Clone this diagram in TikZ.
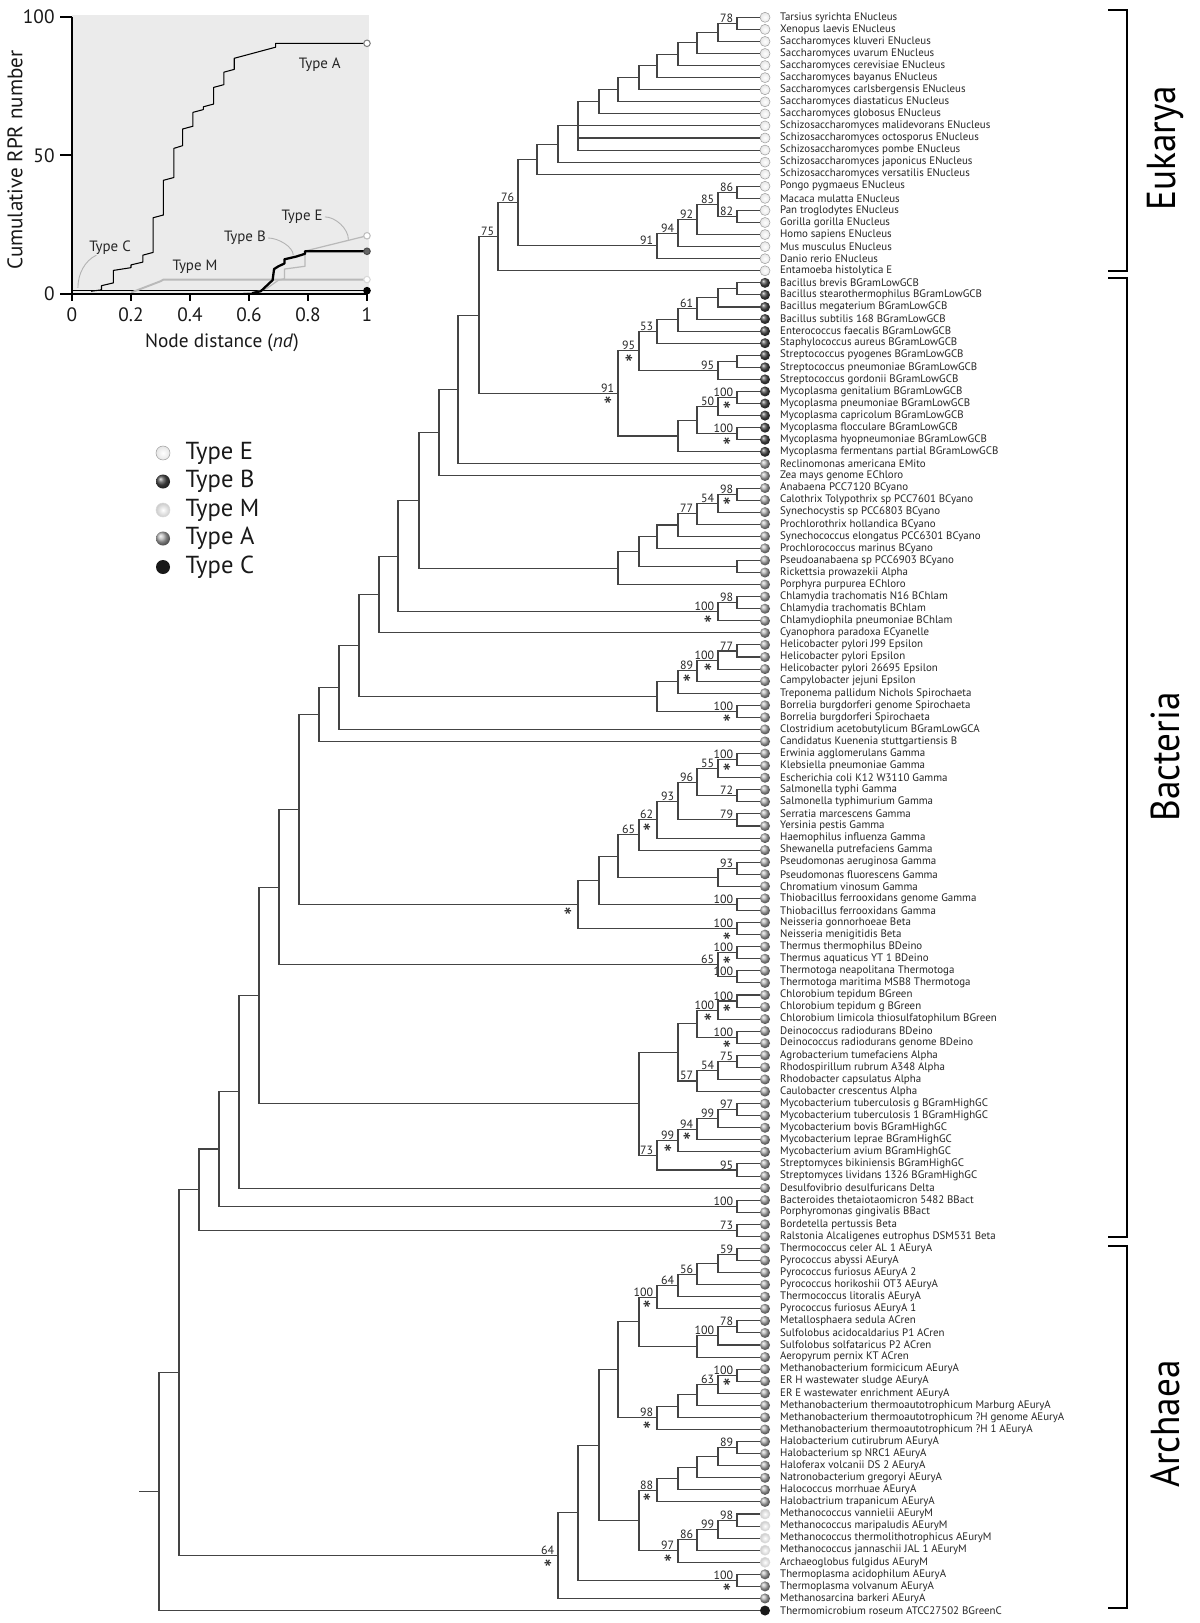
\documentclass[tikz,border=0pt]{standalone}
\usepackage{fontspec}
\setmainfont{PT Sans}
\usetikzlibrary{calc,positioning}
\definecolor{treegray}{RGB}{68,68,68}
\definecolor{plotbg}{RGB}{235,235,235}

% clade: name, x of its vertical, first child, last child, support value
\newcommand{\clade}[5]{%
  \coordinate (mid) at ($(#3)!.5!(#4)$);
  \coordinate (lev) at (#2,0);
  \coordinate (#1) at (mid -| lev);
  \draw[branch] (#3) -- (#1 |- #3) -- (#1 |- #4) -- (#4);
  \if\relax\detokenize{#5}\relax\else\node[boot] (b#1) at (#1) {#5};\fi}

\begin{document}
\begin{tikzpicture}[x=0.2mm, y=-0.2mm,
    branch/.style={draw=treegray, line width=0.6pt},
    leaf/.style={circle, inner sep=0pt, minimum size=2mm},
    typeE/.style={draw=gray!75, line width=0.3pt, inner color=white, outer color=gray!20},
    typeB/.style={ball color=black!70},
    typeM/.style={draw=gray!30, line width=0.3pt, inner color=white, outer color=gray!40},
    typeA/.style={ball color=gray!60},
    typeC/.style={fill=black!90},
    leaftext/.style={inner sep=0pt, font=\fontsize{6.2}{7}\selectfont, text=black!85},
    boot/.style={anchor=south east, inner sep=0pt, xshift=-0.7mm, yshift=0.1mm, font=\fontsize{6.8}{7}\selectfont, text=black!85},
    bstar/.style={inner sep=0pt, xshift=-2mm, yshift=-1.7mm, font=\fontsize{14}{14}\selectfont, text=black!85},
    keytext/.style={inner sep=0pt, font=\fontsize{14}{16}\selectfont, text=black!90},
    axisline/.style={draw=black, line width=1pt},
    ticklab/.style={inner sep=0pt, font=\fontsize{11}{13}\selectfont, text=black!90},
    typelab/.style={inner sep=0pt, font=\fontsize{8.5}{10}\selectfont, text=black!85},
    leader/.style={draw=gray!60, line width=0.5pt},
    endmark/.style={circle, inner sep=0pt, minimum size=1.3mm, line width=0.6pt},
    bracket/.style={draw=black, line width=0.8pt},
    domainlab/.style={rotate=90, inner sep=0pt, font=\fontsize{23}{23}\selectfont},
]
\useasboundingbox (0,0) rectangle (1200,1623);

% leaves
\foreach \typ/\name [count=\i] in {
  E/Tarsius syrichta ENucleus, E/Xenopus laevis ENucleus,
  E/Saccharomyces kluveri ENucleus, E/Saccharomyces uvarum ENucleus,
  E/Saccharomyces cerevisiae ENucleus, E/Saccharomyces bayanus ENucleus,
  E/Saccharomyces carlsbergensis ENucleus, E/Saccharomyces diastaticus ENucleus,
  E/Saccharomyces globosus ENucleus, E/Schizosaccharomyces malidevorans ENucleus,
  E/Schizosaccharomyces octosporus ENucleus, E/Schizosaccharomyces pombe ENucleus,
  E/Schizosaccharomyces japonicus ENucleus, E/Schizosaccharomyces versatilis ENucleus,
  E/Pongo pygmaeus ENucleus, E/Macaca mulatta ENucleus,
  E/Pan troglodytes ENucleus, E/Gorilla gorilla ENucleus,
  E/Homo sapiens ENucleus, E/Mus musculus ENucleus,
  E/Danio rerio ENucleus, E/Entamoeba histolytica E,
  B/Bacillus brevis BGramLowGCB, B/Bacillus stearothermophilus BGramLowGCB,
  B/Bacillus megaterium BGramLowGCB, B/Bacillus subtilis 168 BGramLowGCB,
  B/Enterococcus faecalis BGramLowGCB, B/Staphylococcus aureus BGramLowGCB,
  B/Streptococcus pyogenes BGramLowGCB, B/Streptococcus pneumoniae BGramLowGCB,
  B/Streptococcus gordonii BGramLowGCB, B/Mycoplasma genitalium BGramLowGCB,
  B/Mycoplasma pneumoniae BGramLowGCB, B/Mycoplasma capricolum BGramLowGCB,
  B/Mycoplasma flocculare BGramLowGCB, B/Mycoplasma hyopneumoniae BGramLowGCB,
  B/Mycoplasma fermentans partial BGramLowGCB,
  A/Reclinomonas americana EMito, A/Zea mays genome EChloro,
  A/Anabaena PCC7120 BCyano, A/Calothrix Tolypothrix sp PCC7601 BCyano,
  A/Synechocystis sp PCC6803 BCyano, A/Prochlorothrix hollandica BCyano,
  A/Synechococcus elongatus PCC6301 BCyano, A/Prochlorococcus marinus BCyano,
  A/Pseudoanabaena sp PCC6903 BCyano, A/Rickettsia prowazekii Alpha,
  A/Porphyra purpurea EChloro, A/Chlamydia trachomatis N16 BChlam,
  A/Chlamydia trachomatis BChlam, A/Chlamydiophila pneumoniae BChlam,
  A/Cyanophora paradoxa ECyanelle, A/Helicobacter pylori J99 Epsilon,
  A/Helicobacter pylori Epsilon, A/Helicobacter pylori 26695 Epsilon,
  A/Campylobacter jejuni Epsilon, A/Treponema pallidum Nichols Spirochaeta,
  A/Borrelia burgdorferi genome Spirochaeta, A/Borrelia burgdorferi Spirochaeta,
  A/Clostridium acetobutylicum BGramLowGCA, A/Candidatus Kuenenia stuttgartiensis B,
  A/Erwinia agglomerulans Gamma, A/Klebsiella pneumoniae Gamma,
  A/Escherichia coli K12 W3110 Gamma, A/Salmonella typhi Gamma,
  A/Salmonella typhimurium Gamma, A/Serratia marcescens Gamma,
  A/Yersinia pestis Gamma, A/Haemophilus influenza Gamma,
  A/Shewanella putrefaciens Gamma, A/Pseudomonas aeruginosa Gamma,
  A/Pseudomonas fluorescens Gamma, A/Chromatium vinosum Gamma,
  A/Thiobacillus ferrooxidans genome Gamma, A/Thiobacillus ferrooxidans Gamma,
  A/Neisseria gonnorhoeae Beta, A/Neisseria menigitidis Beta,
  A/Thermus thermophilus BDeino, A/Thermus aquaticus YT 1 BDeino,
  A/Thermotoga neapolitana Thermotoga, A/Thermotoga maritima MSB8 Thermotoga,
  A/Chlorobium tepidum BGreen, A/Chlorobium tepidum g BGreen,
  A/Chlorobium limicola thiosulfatophilum BGreen, A/Deinococcus radiodurans BDeino,
  A/Deinococcus radiodurans genome BDeino, A/Agrobacterium tumefaciens Alpha,
  A/Rhodospirillum rubrum A348 Alpha, A/Rhodobacter capsulatus Alpha,
  A/Caulobacter crescentus Alpha, A/Mycobacterium tuberculosis g BGramHighGC,
  A/Mycobacterium tuberculosis 1 BGramHighGC, A/Mycobacterium bovis BGramHighGC,
  A/Mycobacterium leprae BGramHighGC, A/Mycobacterium avium BGramHighGC,
  A/Streptomyces bikiniensis BGramHighGC, A/Streptomyces lividans 1326 BGramHighGC,
  A/Desulfovibrio desulfuricans Delta, A/Bacteroides thetaiotaomicron 5482 BBact,
  A/Porphyromonas gingivalis BBact, A/Bordetella pertussis Beta,
  A/Ralstonia Alcaligenes eutrophus DSM531 Beta,
  A/Thermococcus celer AL 1 AEuryA, A/Pyrococcus abyssi AEuryA,
  A/Pyrococcus furiosus AEuryA 2, A/Pyrococcus horikoshii OT3 AEuryA,
  A/Thermococcus litoralis AEuryA, A/Pyrococcus furiosus AEuryA 1,
  A/Metallosphaera sedula ACren, A/Sulfolobus acidocaldarius P1 ACren,
  A/Sulfolobus solfataricus P2 ACren, A/Aeropyrum pernix KT ACren,
  A/Methanobacterium formicicum AEuryA, A/ER H wastewater sludge AEuryA,
  A/ER E wastewater enrichment AEuryA,
  A/Methanobacterium thermoautotrophicum Marburg AEuryA,
  A/Methanobacterium thermoautotrophicum ?H genome AEuryA,
  A/Methanobacterium thermoautotrophicum ?H 1 AEuryA,
  A/Halobacterium cutirubrum AEuryA, A/Halobacterium sp NRC1 AEuryA,
  A/Haloferax volcanii DS 2 AEuryA, A/Natronobacterium gregoryi AEuryA,
  A/Halococcus morrhuae AEuryA, A/Halobactrium trapanicum AEuryA,
  M/Methanococcus vannielii AEuryM, M/Methanococcus maripaludis AEuryM,
  M/Methanococcus thermolithotrophicus AEuryM, M/Methanococcus jannaschii JAL 1 AEuryM,
  M/Archaeoglobus fulgidus AEuryM, A/Thermoplasma acidophilum AEuryA,
  A/Thermoplasma volvanum AEuryA, A/Methanosarcina barkeri AEuryA,
  C/Thermomicrobium roseum ATCC27502 BGreenC} {
  \node[leaf, type\typ] (c\i) at (765, {17.3+(\i-1)*12.07}) {};
  \node[leaftext, right=1.9mm of c\i] (t\i) {\name};
  \coordinate (l\i) at (c\i.west);
}

% Eukarya
\clade{A1}{737}{l1}{l2}{78}
\clade{A2}{718}{A1}{l3}{}
\clade{A3}{697}{A2}{l4}{}
\clade{A4}{678}{A3}{l5}{}
\clade{A5}{657}{A4}{l6}{}
\clade{A6}{639}{A5}{l7}{}
\clade{A7}{618}{A6}{l8}{}
\clade{A8}{599}{A7}{l9}{}
\clade{A9}{578}{A8}{l12}{}
\draw[branch] (A9 |- l10) -- (l10);
\draw[branch] (A9 |- l11) -- (l11);
\clade{A10}{558}{A9}{l13}{}
\clade{A11}{537}{A10}{l14}{}
\clade{V1}{737}{l15}{l16}{86}
\clade{V2}{737}{l17}{l18}{82}
\clade{V3}{718}{V1}{V2}{85}
\clade{V4}{697}{V3}{l19}{92}
\clade{V5}{678}{V4}{l20}{94}
\clade{V6}{657}{V5}{l21}{91}
\clade{E76}{518}{A11}{V6}{76}
\clade{E75}{498}{E76}{l22}{75}

% Bacteria
\clade{B1}{737}{l23}{l24}{}
\clade{B2}{718}{B1}{l25}{}
\clade{B3}{697}{B2}{l26}{61}
\clade{B4}{678}{B3}{l27}{}
\clade{B5}{657}{B4}{l28}{53}
\clade{S1}{737}{l29}{l30}{}
\clade{S2}{718}{S1}{l31}{95}
\clade{B6}{639}{B5}{S2}{95}
\clade{M1}{737}{l32}{l33}{100}
\clade{M2}{718}{M1}{l34}{50}
\clade{M3}{737}{l35}{l36}{100}
\clade{M4}{697}{M2}{M3}{}
\clade{M5}{678}{M4}{l37}{}
\clade{B7}{618}{B6}{M5}{91}
\clade{P1}{479}{E75}{B7}{}
\clade{P2}{458}{P1}{l38}{}
\clade{P3}{439}{P2}{l39}{}
\clade{Cy1}{737}{l40}{l41}{98}
\clade{Cy2}{718}{Cy1}{l42}{54}
\clade{Cy3}{697}{Cy2}{l43}{77}
\clade{Cy4}{678}{Cy3}{l44}{}
\clade{Cy5}{657}{Cy4}{l45}{}
\clade{R1}{737}{l46}{l47}{}
\clade{Cy6}{639}{Cy5}{R1}{}
\clade{X1}{618}{Cy6}{l48}{}
\clade{P4}{419}{P3}{X1}{}
\clade{Ch1}{737}{l49}{l50}{98}
\clade{Ch2}{718}{Ch1}{l51}{100}
\clade{P5}{398}{P4}{Ch2}{}
\clade{P6}{379}{P5}{l52}{}
\clade{H1}{737}{l53}{l54}{77}
\clade{H2}{718}{H1}{l55}{100}
\clade{H3}{697}{H2}{l56}{89}
\clade{H4}{678}{H3}{l57}{}
\clade{Bo1}{737}{l58}{l59}{100}
\clade{H5}{657}{H4}{Bo1}{}
\clade{P7}{359}{P6}{H5}{}
\clade{P8}{339}{P7}{l60}{}
\clade{P9}{319}{P8}{l61}{}
\clade{G1}{737}{l62}{l63}{100}
\clade{G2}{718}{G1}{l64}{55}
\clade{G3}{737}{l65}{l66}{72}
\clade{G4}{697}{G2}{G3}{96}
\clade{G5}{737}{l67}{l68}{79}
\clade{G6}{678}{G4}{G5}{93}
\clade{G7}{657}{G6}{l69}{62}
\clade{G8}{639}{G7}{l70}{65}
\clade{Ps1}{737}{l71}{l72}{93}
\clade{Ps2}{718}{Ps1}{l73}{}
\clade{G9}{618}{G8}{Ps2}{}
\clade{Th1}{737}{l74}{l75}{100}
\clade{G10}{599}{G9}{Th1}{}
\clade{N1}{737}{l76}{l77}{100}
\clade{G11}{578}{G10}{N1}{}
\clade{P10}{299}{P9}{G11}{}
\clade{T1}{737}{l78}{l79}{100}
\clade{T2}{737}{l80}{l81}{100}
\clade{T3}{718}{T1}{T2}{65}
\clade{P11}{279}{P10}{T3}{}
\clade{Cl1}{737}{l82}{l83}{100}
\clade{Cl2}{718}{Cl1}{l84}{100}
\clade{D1}{737}{l85}{l86}{100}
\clade{Cl3}{697}{Cl2}{D1}{}
\clade{Ag1}{737}{l87}{l88}{75}
\clade{Ag2}{718}{Ag1}{l89}{54}
\clade{Ag3}{697}{Ag2}{l90}{57}
\clade{Cl4}{678}{Cl3}{Ag3}{}
\clade{My1}{737}{l91}{l92}{97}
\clade{My2}{718}{My1}{l93}{99}
\clade{My3}{697}{My2}{l94}{94}
\clade{My4}{678}{My3}{l95}{99}
\clade{St1}{737}{l96}{l97}{95}
\clade{My5}{657}{My4}{St1}{73}
\clade{Q1}{639}{Cl4}{My5}{}
\clade{P12}{259}{P11}{Q1}{}
\clade{P13}{239}{P12}{l98}{}
\clade{Ba1}{737}{l99}{l100}{100}
\clade{P14}{219}{P13}{Ba1}{}
\clade{Bo2}{737}{l101}{l102}{73}
\clade{P15}{199}{P14}{Bo2}{}

% Archaea
\clade{Ar1}{737}{l103}{l104}{59}
\clade{Ar2}{718}{Ar1}{l105}{}
\clade{Ar3}{697}{Ar2}{l106}{56}
\clade{Ar4}{678}{Ar3}{l107}{64}
\clade{Ar5}{657}{Ar4}{l108}{100}
\clade{Su1}{737}{l109}{l110}{78}
\clade{Su2}{718}{Su1}{l111}{100}
\clade{Su3}{697}{Su2}{l112}{}
\clade{Ar6}{639}{Ar5}{Su3}{}
\clade{Mb1}{737}{l113}{l114}{100}
\clade{Mb2}{718}{Mb1}{l115}{63}
\clade{Mb3}{697}{Mb2}{l116}{}
\clade{Mb4}{678}{Mb3}{l117}{}
\clade{Mb5}{657}{Mb4}{l118}{98}
\clade{Ar7}{618}{Ar6}{Mb5}{}
\clade{Ha1}{737}{l119}{l120}{89}
\clade{Ha2}{718}{Ha1}{l121}{}
\clade{Ha3}{697}{Ha2}{l122}{}
\clade{Ha4}{678}{Ha3}{l123}{}
\clade{Ha5}{657}{Ha4}{l124}{88}
\clade{Mc1}{737}{l125}{l126}{98}
\clade{Mc2}{718}{Mc1}{l127}{99}
\clade{Mc3}{697}{Mc2}{l128}{86}
\clade{Mc4}{678}{Mc3}{l129}{97}
\clade{Ar8}{639}{Ha5}{Mc4}{}
\clade{Ar9}{599}{Ar7}{Ar8}{}
\clade{Tp1}{737}{l130}{l131}{100}
\clade{Ar10}{578}{Ar9}{Tp1}{}
\clade{Ar11}{558}{Ar10}{l132}{64}
\clade{P16}{179}{P15}{Ar11}{}
\clade{Root}{159}{P16}{l133}{}
\coordinate (rootx) at (139,0);
\draw[branch] (Root) -- (Root -| rootx);

% asterisks under the stems
\foreach \n in {B6,M1,M3,B7,Cy1,Ch2,H2,H3,Bo1,G1,G7,N1,G11,T1,Cl1,Cl2,D1,
                My3,My4,Ar5,Mb1,Mb5,Ha5,Mc4,Tp1,Ar11}
  \node[bstar] (s\n) at (\n) {\raisebox{-0.36em}[0.34em][0pt]{*}};

% domain brackets
\draw[bracket] (1108,10) -- (1127,10) -- (1127,271) -- (1108,271);
\draw[bracket] (1108,278) -- (1127,278) -- (1127,1237) -- (1108,1237);
\draw[bracket] (1108,1246) -- (1127,1246) -- (1127,1608) -- (1108,1608);
\node[domainlab] (eukarya) at (1165,148) {\scalebox{0.92}[1]{Eukarya}};
\node[domainlab] (bacteria) at (1165,757) {\scalebox{0.92}[1]{Bacteria}};
\node[domainlab] (archaea) at (1165,1424) {\scalebox{0.92}[1]{Archaea}};

% legend
\foreach \typ [count=\k] in {E,B,M,A,C} {
  \node[leaf, type\typ, minimum size=2.8mm] (key\typ) at (163, {453+28.5*(\k-1)}) {};
  \node[keytext, right=3mm of key\typ] (keylab\typ) {Type \typ};
}

% inset: cumulative RPR number
\coordinate (porig) at (72,294);
\begin{scope}[shift={(porig)}, x=59mm, y=0.5546mm]
  \fill[plotbg] (0,0) rectangle (1.008,100.6);
  \draw[black, line width=0.8pt] (0,1.2) -- (1,1.2);
  \draw[gray!55, line width=1.1pt, line join=round] plot coordinates {(0.2,0.5) (0.3,4.6) (0.31,5.2) (1,5.2)};
  \draw[gray!55, line width=0.7pt, line join=round] plot coordinates {(0.58,0.3) (0.62,0.6) (0.66,2) (0.7,5) (0.72,5.5) (0.72,9) (0.79,10) (0.79,15.5) (1,21)};
  \draw[black, line width=1.3pt, line join=round] plot coordinates {(0.61,0.3) (0.64,1) (0.66,3) (0.68,5) (0.685,9) (0.7,10) (0.72,11) (0.72,12.5) (0.76,13.5) (0.79,14.5) (0.79,15.4) (1,15.4)};
  \draw[black, line width=0.6pt, line join=round] plot coordinates {(0.065,1) (0.1,1.5) (0.1,3) (0.14,4) (0.14,8.5) (0.2,9.5) (0.2,10.5) (0.24,11.5) (0.24,14) (0.275,15) (0.275,27.5) (0.31,28.5) (0.31,41) (0.345,42) (0.345,52.5) (0.375,53.5) (0.375,59.5) (0.41,60.5) (0.41,65.5) (0.445,66.5) (0.445,67.5) (0.48,68.5) (0.48,74.5) (0.515,75.5) (0.515,80) (0.55,81) (0.55,85) (0.69,89) (0.69,90.4) (1,90.4)};
  \node[endmark, draw=gray, fill=white] (endA) at (1,90.4) {};
  \node[endmark, draw=gray!50, fill=white] (endE) at (1,21) {};
  \node[endmark, draw=black!70, fill=black!60] (endB) at (1,15.4) {};
  \node[endmark, draw=gray!30, fill=white] (endM) at (1,5.2) {};
  \node[endmark, draw=black, fill=black] (endC) at (1,1.2) {};
  % axes
  \draw[axisline] (0,100) -- (0,0) -- (1,0);
  \foreach \t [count=\j] in {0,0.2,0.4,0.6,0.8,1} {
    \draw[axisline] (\t,0) -- (\t,-2.6);
    \node[ticklab, anchor=north] (xt\j) at (\t,-4.8) {\t};
  }
  \foreach \t [count=\j] in {0,50,100} {
    \draw[axisline] (0,\t) -- (-0.04,\t);
    \node[ticklab, anchor=east] (yt\j) at (-0.058,\t) {\t};
  }
  \node[ticklab] (xtitle) at (0.508,-17.7) {Node distance (\textit{nd})};
  \node[ticklab, rotate=90, font=\fontsize{12}{14}\selectfont] (ytitle) at (-0.193,48.3) {Cumulative RPR number};
  % curve labels
  \node[typelab] (labA) at (0.84,82.6) {Type A};
  \node[typelab] (labE) at (0.78,27.8) {Type E};
  \node[typelab] (labB) at (0.586,20.2) {Type B};
  \node[typelab] (labC) at (0.129,16.6) {Type C};
  \node[typelab] (labM) at (0.417,9.7) {Type M};
  \coordinate (onE) at (0.937,19.6);
  \coordinate (onB) at (0.75,14);
  \coordinate (onC) at (0.02,2.2);
  \draw[leader] ([xshift=0.4mm]labE.east) .. controls +(0.035,0) and +(0,4) .. (onE);
  \draw[leader] ([xshift=0.4mm]labB.east) .. controls +(0.035,0) and +(0,3) .. (onB);
  \draw[leader] ([xshift=1.5mm]labC.south west) .. controls +(-0.04,-2) and +(0,5) .. (onC);
\end{scope}
\end{tikzpicture}
\end{document}
